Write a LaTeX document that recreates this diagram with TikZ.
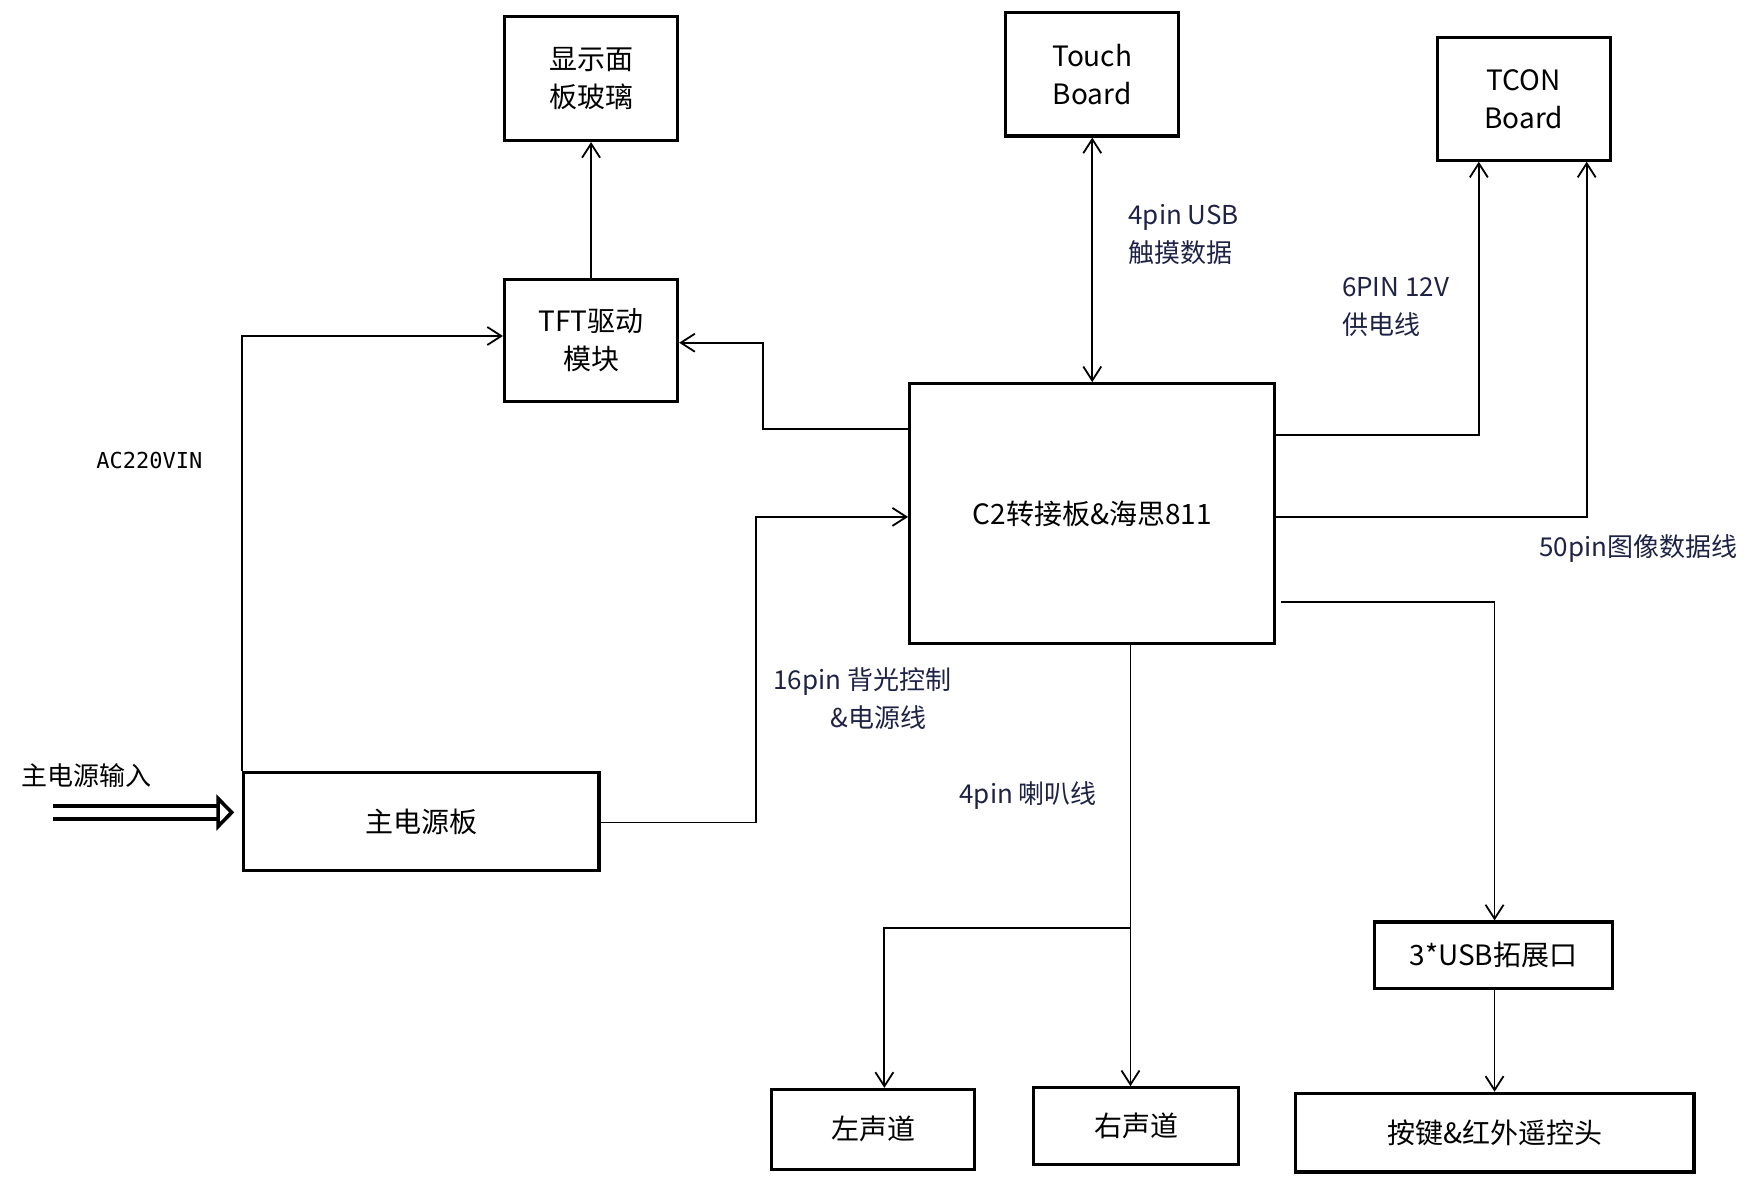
\documentclass[tikz,border=0pt]{standalone}
\usepackage{fontspec}
\setmainfont{Noto Sans CJK SC}
\newfontfamily\monofont{DejaVu Sans Mono}
\usetikzlibrary{arrows.meta}
\definecolor{labelblue}{RGB}{30,35,70}

\begin{document}
\begin{tikzpicture}[x=0.562pt, y=-0.562pt, >={Straight Barb[length=7pt,width=9pt]},
    blk/.style={draw, line width=1.6pt, align=center, inner sep=0pt,
        font=\fontsize{14}{19}\selectfont},
    lbl/.style={align=left, text=labelblue, font=\fontsize{13}{19}\selectfont},
    con/.style={line width=0.9pt}]
    \useasboundingbox (0,0) rectangle (1568,1055);
    % boxes
    \node[blk, minimum width=154*0.562pt, minimum height=110*0.562pt] (glass) at (526,70) {显示面\\板玻璃};
    \node[blk, minimum width=154*0.562pt, minimum height=109*0.562pt] (tft) at (526,303) {TFT驱动\\模块};
    \node[blk, minimum width=154*0.562pt, minimum height=110*0.562pt] (touch) at (972,66) {Touch\\Board};
    \node[blk, minimum width=154*0.562pt, minimum height=109*0.562pt] (tcon) at (1356,88) {TCON\\Board};
    \node[blk, minimum width=325*0.562pt, minimum height=231*0.562pt] (c2) at (972,457) {C2转接板\&海思811};
    \node[blk, minimum width=316*0.562pt, minimum height=87*0.562pt] (psu) at (375,731) {主电源板};
    \node[blk, minimum width=212*0.562pt, minimum height=59*0.562pt] (usb) at (1329,850) {3*USB拓展口};
    \node[blk, minimum width=181*0.562pt, minimum height=71*0.562pt] (left) at (777,1005) {左声道};
    \node[blk, minimum width=182*0.562pt, minimum height=68*0.562pt] (right) at (1011,1002) {右声道};
    \node[blk, minimum width=355*0.562pt, minimum height=70*0.562pt] (keys) at (1330,1008) {按键\&红外遥控头};
    % free ends
    \coordinate (in) at (47,723);
    \coordinate (split) at (1006,826);
    % labels
    \node[lbl, text=black, font=\fontsize{11}{13}\monofont] (ac) at (133,410) {AC220VIN};
    \node[lbl, text=black] (inlbl) at (77,690) {主电源输入};
    \node[lbl, anchor=west] (bl) at (682,622) {16pin 背光控制\\\hspace{2.2em}\&电源线};
    \node[lbl, anchor=west] (tl) at (998,209) {4pin USB\\触摸数据};
    \node[lbl, anchor=west] (pl) at (1188,273) {6PIN 12V\\供电线};
    \node[lbl] (il) at (1458,488) {50pin图像数据线};
    \node[lbl] (sl) at (915,708) {4pin 喇叭线};
    % connectors
    \draw[con, ->] (psu.north west) |- (tft.west |- 0,299);
    \draw[con, ->] (tft) -- (glass);
    \draw[con, ->] (c2.west |- 0,382) -| (679,305) -- (tft.east |- 0,305);
    \draw[con, ->] (psu.east |- 0,732) -| (673,460) -- (c2.west |- 0,460);
    \draw[con, <->] (touch) -- (c2.north -| touch);
    \draw[con, ->] (c2.east |- 0,387) -| (tcon.south -| 1316,0);
    \draw[con, ->] (c2.east |- 0,460) -| (tcon.south -| 1412,0);
    \draw[con, ->] (1140,536) -| (usb.north -| 1330,0);
    \draw[con, ->] (usb.south -| 1330,0) -- (keys.north -| 1330,0);
    \draw[con] (c2.south -| split) -- (split);
    \draw[con, ->] (split) -- (right.north -| split);
    \draw[con, ->] (split) -| (left.north -| 787,0);
    \draw[-{Triangle[open,length=9pt,width=18pt]}, double, double distance=4.5pt, line width=1.8pt, shorten >=4pt]
        (in) -- (psu.west |- in);
\end{tikzpicture}
\end{document}
